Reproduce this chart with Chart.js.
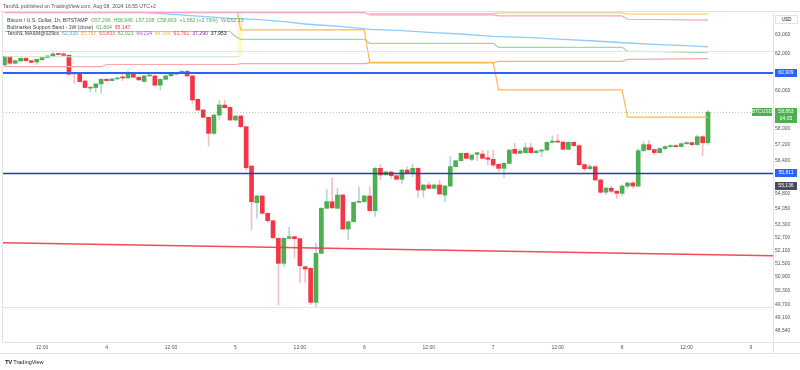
<!DOCTYPE html>
<html>
<head>
<meta charset="utf-8">
<script src="https://cdn.jsdelivr.net/npm/chart.js@4.4.1/dist/chart.umd.min.js"></script>
<style>
  html, body { margin: 0; padding: 0; background: #fff; }
  #wrap { position: relative; width: 800px; height: 370px; overflow: hidden; font-family: "Liberation Sans", Arial, sans-serif; }
  canvas { position: absolute; left: 0; top: 0; }
  .txt { position: absolute; white-space: nowrap; font-size: 5.15px; line-height: 6px; color: #3b3e48; }
  .g { color: #4caf50; } .r { color: #f23645; }
  .usd { position: absolute; left: 775px; top: 15px; width: 21px; height: 7px; border: 1px solid #e0e3eb; font-size: 4.6px; line-height: 7px; text-align: center; color: #131722; background: #fff; }
  .logo { font-weight: 900; font-size: 6px; color: #131722; letter-spacing: -0.4px; }
</style>
</head>
<body>
<div id="wrap">
  <canvas id="chart" width="800" height="370"></canvas>
  <div class="txt" style="left:3px;top:3px;color:#50535e">TaroNL published on TradingView.com, Aug 08, 2024 16:55 UTC+2</div>
  <div class="txt" style="left:7px;top:17px">Bitcoin / U.S. Dollar, 1h, BITSTAMP&nbsp; <span class="g">O57,296&nbsp; H58,945&nbsp; L57,208&nbsp; C58,863&nbsp; +1,582 (+2.76%)&nbsp; Vol262.13</span></div>
  <div class="txt" style="left:7px;top:24px">Bullmarket Support Band - 1W (close)&nbsp; <span class="g">61,804</span>&nbsp; <span class="r">65,147</span></div>
  <div class="txt" style="left:7px;top:30px">TaroNL MA&amp;M@029cs&nbsp; <span style="color:#42a5f5">62,339</span>&nbsp; <span style="color:#ff9800">57,757</span>&nbsp; <span style="color:#ef5350">63,833</span>&nbsp; <span style="color:#4caf50">62,021</span>&nbsp; <span style="color:#e040fb">64,224</span>&nbsp; <span style="color:#fbc02d">64,164</span>&nbsp; <span style="color:#f44336">61,761</span>&nbsp; <span style="color:#9c27b0">37,290</span>&nbsp; <span style="color:#131722">37,953</span></div>
  <div class="usd">USD</div>
  <div class="txt" style="left:5px;top:359px;font-size:5.5px;color:#131722"><span class="logo">TV</span> TradingView</div>
</div>
<script>
// hourly candles, index 0 = Aug 3 05:00 (UTC+2)
const opens = [61358,61806,61450,61575,61720,61590,61519,61640,61760,61845,61955,61955,61884,60900,60876,60500,60120,60150,60344,60590,
  60520,60610,60700,60660,60913,60700,60470,60769,60769,60275,60590,60769,60860,60913,61020,60769,59530,58972,58593,57773,
  58712,59232,59110,58454,58660,58110,56130,54349,54669,53842,53491,52667,51520,52667,52744,52651,51366,51292,49780,51977,
  54080,54397,54080,54717,53102,53444,54366,54400,54669,53966,56018,55700,55840,55655,55480,55935,55770,56018,54958,55201,
  55040,55201,54717,55152,56100,56396,56762,56464,56713,56729,56540,56464,56217,56018,56265,56964,56762,56795,57045,56795,
  56879,56929,57315,57380,57330,56964,57315,57150,56200,56000,56100,55450,54850,55050,54900,54800,55150,55300,55150,56900,
  57200,56950,56800,57000,57100,57150,57100,57250,57300,57200,57600,57296];
const highs = [61830,61830,61620,61750,61750,61610,61690,61780,61870,62118,62000,62118,61920,60950,60900,60520,60170,60360,60610,60620,
  60630,60660,60913,61037,60940,60720,60790,60830,60820,60610,60790,60880,60930,61040,61050,60800,59560,59000,58620,58740,
  59493,59493,59140,58690,58690,58140,56160,54700,54700,53870,53520,52700,52700,53180,52780,52680,51400,51320,52436,54120,
  54992,55527,55040,54750,53470,54390,55118,54700,55118,56080,56217,55870,55860,55680,55960,56100,56230,56050,55230,55362,
  55230,55444,55180,56594,56420,56790,56790,56700,56820,56894,56894,56929,56240,56290,56950,57263,56980,57263,57263,56900,
  56950,57340,57642,57727,57360,57340,57350,57200,56250,56200,56150,55500,55100,55150,54950,55200,55350,55350,57000,57350,
  57400,57000,57050,57150,57200,57200,57280,57350,57330,57700,57650,58945];
const lows = [61330,61358,61420,61550,61570,61470,61395,61620,61740,61830,61900,61860,60840,60380,60440,60120,59905,59910,59850,60500,
  60500,60590,60519,60640,60680,60530,60450,60750,60250,60026,60570,60750,60840,60890,60750,59318,58950,58560,57130,57700,
  58490,59060,58420,58420,58080,55950,53055,53603,53800,53396,52650,49662,51366,52640,51747,50647,50647,49680,49588,51950,
  54050,54070,54050,53070,52589,53420,54340,54380,53940,53700,55444,55680,55527,55460,55284,55750,55606,54606,54606,55020,
  55020,54740,54394,55120,56080,56370,56490,56400,56400,56490,56182,56100,55852,55576,56240,56740,56740,56770,56770,56770,
  56594,56900,57290,57300,56940,56940,57100,56150,55900,55950,55400,54780,54750,54800,54550,54700,55050,55050,55100,56850,
  56900,56700,56750,56950,57050,57050,57080,57200,57150,57150,56650,57208];
const closes = [61806,61450,61590,61720,61590,61500,61666,61760,61845,61955,61930,61884,60860,60880,60465,60150,60150,60344,60590,60520,
  60610,60640,60660,60913,60700,60556,60769,60805,60275,60590,60769,60860,60913,61020,60769,59493,58972,58593,57773,58712,
  59232,59093,58454,58660,58110,56048,54394,54669,53842,53491,52696,51520,52667,52744,52651,51412,51262,49780,51977,54080,
  54397,54100,54717,53102,53444,54366,54400,54669,53966,56018,55690,55840,55655,55480,55935,55770,56018,54958,55201,55040,
  55201,54765,55152,56100,56396,56762,56514,56679,56795,56514,56464,56182,56018,56265,56929,56762,56879,57045,56795,56879,
  56929,57315,57380,57330,56964,57315,57150,56200,56000,56100,55450,54850,55050,54900,54800,55150,55300,55150,56900,57200,
  56950,56800,57000,57100,57150,57100,57250,57300,57200,57600,57296,58863];

// x-axis ticks (hour index) and their labels
const tickIdx = [7, 19, 31, 43, 55, 67, 79, 91, 103, 115, 127, 139];
const tickText = ['12:00', '4', '12:00', '5', '12:00', '6', '12:00', '7', '12:00', '8', '12:00', '9'];
// price-axis ticks
const yTicks = [63000, 62000, 60000, 58000, 57200, 56400, 54800, 54050, 53300, 52700, 52100, 51500, 50900, 50300, 49700, 49100, 48540];

// indicator lines: hour index + value
const pinkIdx = [0, 67, 68, 91, 92, 115, 116, 131];
const pinkVal = [64250, 64250, 64124, 64124, 64068, 64068, 63880, 63833];
const peachIdx = [68, 91, 92, 115, 116, 131];
const peachVal = [64194, 64194, 64240, 64240, 64170, 64164];
const orangeIdx = [43, 44, 67, 68, 91, 92, 115, 116, 131];
const orangeVal = [64800, 63280, 63280, 61500, 61500, 60030, 60030, 58600, 58600];
const blueIdx = [20, 42, 47, 52, 56, 63, 68, 74, 79, 85, 91, 98, 104, 110, 116, 122, 128, 131];
const blueVal = [64400, 63934, 63874, 63741, 63613, 63462, 63317, 63239, 63150, 63056, 62928, 62850, 62762, 62668, 62558, 62465, 62394, 62339];
const greenIdx = [0, 42, 43, 44, 67, 68, 91, 92, 115, 116, 131];
const greenVal = [63195, 63195, 62917, 62763, 62763, 62540, 62540, 62319, 62319, 62118, 62021];
const smaIdx = [0, 43.8];
const smaVal = [61804, 61804];
const bandIdx = [43.8, 43.8];
const bandVal = [61804, 66000];
const salmonIdx = [0, 18, 19, 43, 44, 67, 68, 91, 92, 115, 116, 131];
const salmonVal = [61265, 61265, 61384, 61384, 61434, 61434, 61475, 61475, 61550, 61550, 61660, 61700];

// drawings
const resistance = 60909;
const support = 55811;
const grayLevels = [62118, 49556];
const trendFrom = 52465, trendTo = 51870;
const markLevel = 55136;
const lastClose = closes[closes.length - 1];

const FONT = '"Liberation Sans", Arial, sans-serif';
const UP = '#4caf50', DOWN = '#f23645';

const line = (idx, val, color, width, order) => ({
  type: 'line',
  data: idx.map((x, k) => ({ x, y: val[k] })),
  borderColor: color, borderWidth: width, pointRadius: 0, tension: 0, fill: false,
  borderCapStyle: 'butt', order: order || 0
});

const drawings = {
  id: 'drawings',
  afterDatasetsDraw(chart) {
    const { ctx, chartArea: a, scales: { y } } = chart;
    const hline = (v, color, w, dash) => {
      const py = Math.round(y.getPixelForValue(v)) + (w % 2 ? 0.5 : 0);
      ctx.strokeStyle = color; ctx.lineWidth = w; ctx.setLineDash(dash || []);
      ctx.beginPath(); ctx.moveTo(a.left, py); ctx.lineTo(a.right, py); ctx.stroke();
    };
    ctx.save();
    ctx.beginPath(); ctx.rect(a.left, a.top, a.right - a.left, a.bottom - a.top); ctx.clip();
    grayLevels.forEach(v => hline(v, '#e3e5ea', 1));
    hline(lastClose, 'rgba(76,175,80,0.45)', 1, [1, 2]);
    ctx.setLineDash([]);
    ctx.strokeStyle = 'rgba(242,54,69,0.9)'; ctx.lineWidth = 1.5;
    ctx.beginPath();
    ctx.moveTo(a.left, y.getPixelForValue(trendFrom));
    ctx.lineTo(a.right, y.getPixelForValue(trendTo));
    ctx.stroke();
    hline(resistance, '#2962ff', 2);
    hline(support, '#2b3f9e', 1.3);
    ctx.restore();
  },
  afterDraw(chart) {
    const { ctx, chartArea: a, scales: { y } } = chart;
    const W = chart.width;
    ctx.save();
    ctx.strokeStyle = '#e0e3eb'; ctx.lineWidth = 1;
    ctx.beginPath();
    ctx.moveTo(0, a.top + 0.5); ctx.lineTo(W, a.top + 0.5);
    ctx.moveTo(a.right, a.bottom + 0.5); ctx.lineTo(W, a.bottom + 0.5);
    ctx.moveTo(0, a.bottom + 11.5); ctx.lineTo(W, a.bottom + 11.5);
    ctx.moveTo(a.right + 0.5, a.bottom); ctx.lineTo(a.right + 0.5, a.bottom + 11);
    ctx.moveTo(a.left - 0.5, a.top); ctx.lineTo(a.left - 0.5, a.bottom);
    ctx.stroke();

    const tag = (x, w, v, h, fill, lines) => {
      const cy = y.getPixelForValue(v);
      const top = Math.round(cy - 4);
      ctx.fillStyle = fill;
      ctx.fillRect(x, top, w, h);
      ctx.fillStyle = '#fff';
      ctx.font = '5px ' + FONT;
      ctx.textAlign = 'center'; ctx.textBaseline = 'middle';
      lines.forEach((t, k) => ctx.fillText(t, x + w / 2, top + 4 + k * 6.5));
    };
    const fmt = v => v.toLocaleString('en-US');
    tag(a.right + 2, 22, resistance, 8, '#2962ff', [fmt(resistance)]);
    tag(a.right + 2, 22, lastClose, 15, UP, [fmt(lastClose), '04:05']);
    tag(a.right - 21, 20, lastClose, 8, UP, ['BTCUSD']);
    tag(a.right + 2, 22, support, 8, '#2962ff', [fmt(support)]);
    tag(a.right + 2, 22, markLevel, 8, '#4a4d57', [fmt(markLevel)]);
    ctx.restore();
  }
};

new Chart(document.getElementById('chart'), {
  data: {
    datasets: [
      line(pinkIdx, pinkVal, '#f5a3c7', 1.2),
      line(peachIdx, peachVal, '#ffcc80', 1.2),
      line(orangeIdx, orangeVal, '#ffb74d', 1.2),
      line(blueIdx, blueVal, '#90caf9', 1.3),
      line(greenIdx, greenVal, '#a5d6a7', 1.2),
      line(smaIdx, smaVal, '#c8e6c9', 1.2),
      line(bandIdx, bandVal, 'rgba(255,238,100,0.35)', 5, 3),
      line(salmonIdx, salmonVal, '#f7a8a8', 1.2),
      {
        type: 'bar', order: 1, grouped: false, barThickness: 4, minBarLength: 1,
        data: opens.map((o, i) => ({ x: i, y: [o, closes[i]] })),
        backgroundColor: opens.map((o, i) => closes[i] >= o ? UP : DOWN)
      },
      {
        type: 'bar', order: 2, grouped: false, barThickness: 1,
        data: opens.map((o, i) => ({ x: i, y: [lows[i], highs[i]] })),
        backgroundColor: opens.map((o, i) => closes[i] >= o ? '#b5d6d9' : '#f6bfc4')
      }
    ]
  },
  options: {
    responsive: false,
    animation: false,
    events: [],
    layout: { padding: { left: 3, top: 11, right: 0, bottom: 17 } },
    plugins: { legend: { display: false }, tooltip: { enabled: false } },
    scales: {
      x: {
        type: 'linear', min: -0.28, max: 143.1, offset: false,
        grid: { display: false, drawTicks: false, offset: false },
        border: { display: true, color: '#e0e3eb' },
        afterBuildTicks: s => { s.ticks = tickIdx.map(v => ({ value: v })); },
        afterFit: s => { s.height = 11; },
        ticks: {
          autoSkip: false, maxRotation: 0, padding: 3, color: '#50535e',
          font: { size: 5, family: FONT },
          callback: v => tickText[tickIdx.indexOf(v)]
        }
      },
      y: {
        type: 'logarithmic', position: 'right', min: 48071, max: 64346,
        grid: { display: false, drawTicks: false },
        border: { display: true, color: '#e0e3eb' },
        afterBuildTicks: s => { s.ticks = yTicks.map(v => ({ value: v })); },
        afterFit: s => { s.width = 27; },
        ticks: {
          autoSkip: false, padding: 2, crossAlign: 'center', color: '#50535e',
          font: { size: 5, family: FONT },
          callback: v => v.toLocaleString('en-US')
        }
      }
    }
  },
  plugins: [drawings]
});
</script>
</body>
</html>
